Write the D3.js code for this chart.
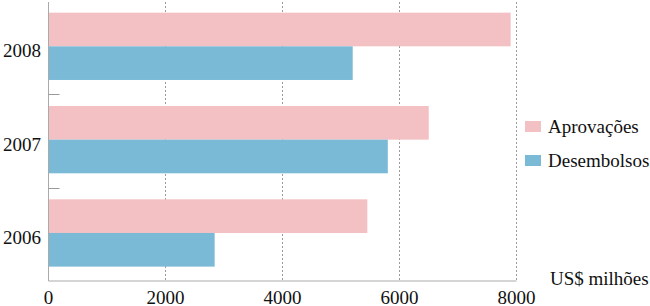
<!DOCTYPE html>
<html>
<head>
<meta charset="utf-8">
<script src="https://cdn.jsdelivr.net/npm/d3@7"></script>
<style>
	body { margin: 0; background: #fff; }
	svg { display: block; }
</style>
</head>
<body>
<svg id="chart" width="650" height="306"></svg>
<script>
// data (US$ milhões)
const years = ["2008", "2007", "2006"];
const seriesNames = ["Aprovações", "Desembolsos"];
const aprovacoes = [7900, 6500, 5450];
const desembolsos = [5200, 5800, 2840];
const xTicks = [0, 2000, 4000, 6000, 8000];

const colors = ["#f3c1c3", "#7bbad6"];
const values = [aprovacoes, desembolsos];
const serif = "'Liberation Serif', Tinos, 'Nimbus Roman', 'Nimbus Roman No9 L', FreeSerif, 'Noto Serif', 'DejaVu Serif', Times, serif";

const svg = d3.select("#chart");
const plotLeft = 48.5, plotRight = 516.5, plotTop = 1, plotBottom = 281;

const x = d3.scaleLinear().domain([0, 8000]).range([plotLeft, plotRight]);
const y0 = d3.scaleBand().domain(years).range([plotTop, plotBottom]);
const bw = y0.bandwidth();
const y1 = d3.scaleBand().domain(seriesNames).range([bw * 0.125, bw * 0.846]);

// dashed grid
svg.append("g")
	.selectAll("line")
	.data(xTicks.slice(1))
	.join("line")
	.attr("x1", d => x(d)).attr("x2", d => x(d))
	.attr("y1", 2).attr("y2", plotBottom)
	.attr("stroke", "#9a9a9a")
	.attr("stroke-width", 1)
	.attr("stroke-dasharray", "2,2");

// bars
const groups = svg.append("g")
	.selectAll("g")
	.data(years)
	.join("g")
	.attr("transform", d => `translate(0,${y0(d)})`);

groups.selectAll("rect")
	.data((d, i) => seriesNames.map((s, j) => ({ s: s, v: values[j][i], c: colors[j] })))
	.join("rect")
	.attr("x", x(0))
	.attr("y", d => y1(d.s))
	.attr("width", d => x(d.v) - x(0))
	.attr("height", y1.bandwidth())
	.attr("fill", d => d.c);

// axes
svg.append("line")
	.attr("x1", plotLeft).attr("x2", plotLeft)
	.attr("y1", 2).attr("y2", plotBottom)
	.attr("stroke", "#aaa");
svg.append("line")
	.attr("x1", plotLeft).attr("x2", plotRight)
	.attr("y1", plotBottom).attr("y2", plotBottom)
	.attr("stroke", "#aaa");

// small ticks between categories
svg.append("g")
	.selectAll("line")
	.data(years.slice(1))
	.join("line")
	.attr("x1", plotLeft).attr("x2", plotLeft + 11)
	.attr("y1", d => Math.round(y0(d)) + 0.5).attr("y2", d => Math.round(y0(d)) + 0.5)
	.attr("stroke", "#999");

// category labels
svg.append("g")
	.selectAll("text")
	.data(years)
	.join("text")
	.attr("x", 41)
	.attr("y", d => y0(d) + bw / 2 + 3.5)
	.attr("dy", "0.33em")
	.attr("text-anchor", "end")
	.style("font-family", serif)
	.attr("font-size", 19)
	.attr("fill", "#111")
	.text(d => d);

// x tick labels
svg.append("g")
	.selectAll("text")
	.data(xTicks)
	.join("text")
	.attr("x", d => x(d))
	.attr("y", 303.5)
	.attr("text-anchor", "middle")
	.style("font-family", serif)
	.attr("font-size", 19)
	.attr("fill", "#111")
	.text(d => d);

// legend
const legend = svg.append("g")
	.selectAll("g")
	.data(seriesNames)
	.join("g")
	.attr("transform", (d, i) => `translate(525,${121 + i * 34})`);
legend.append("rect")
	.attr("width", 16).attr("height", 11)
	.attr("fill", (d, i) => colors[i]);
legend.append("text")
	.attr("x", 23).attr("y", 12)
	.style("font-family", serif)
	.attr("font-size", 19)
	.attr("fill", "#111")
	.text(d => d);

svg.append("text")
	.attr("x", 550).attr("y", 285)
	.style("font-family", serif)
	.attr("font-size", 19)
	.attr("fill", "#111")
	.text("US$ milhões");
</script>
</body>
</html>
